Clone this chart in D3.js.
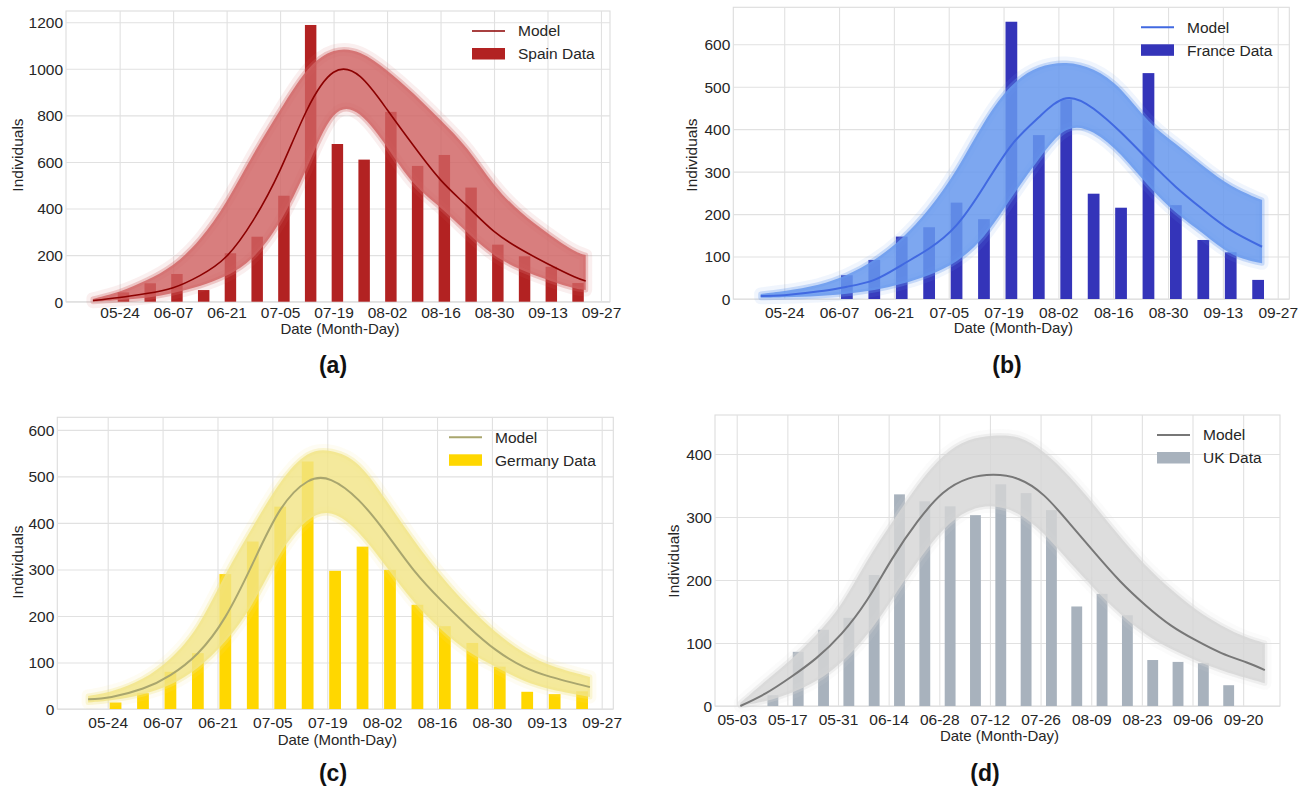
<!DOCTYPE html>
<html>
<head>
<meta charset="utf-8">
<script src="https://cdn.jsdelivr.net/npm/d3@7"></script>
<style>
  body { margin: 0; background: #fff; }
  svg { display: block; font-family: "Liberation Sans", Arial, Helvetica, sans-serif; }
  .tick text { fill: #262626; font-size: 15.5px; }
  .grid line { stroke: #e1e1e1; stroke-width: 1.1; }
</style>
</head>
<body>
<svg id="chart" width="1309" height="792"></svg>
<script>
// ---- data ----
var spainBarDates = ['05-25','06-01','06-08','06-15','06-22','06-29','07-06','07-13','07-20','07-27','08-03','08-10','08-17','08-24','08-31','09-07','09-14','09-21'];
var spainBars     = [40, 79, 119, 50, 208, 279, 455, 1188, 677, 610, 815, 583, 630, 490, 245, 195, 150, 80];
var spainModelDates = ['05-17','05-24','05-31','06-07','06-14','06-21','06-28','07-05','07-12','07-19','07-26','08-02','08-09','08-16','08-23','08-30','09-06','09-13','09-20','09-23'];
var spainModel    = [5, 18, 35, 60, 112, 195, 350, 565, 822, 985, 966, 825, 668, 523, 410, 302, 225, 163, 107, 89];
var spainLow      = [0, 7, 15, 36, 65, 107, 179, 330, 566, 850, 823, 666, 494, 408, 295, 193, 136, 93, 55, 50];
var spainHigh     = [12, 40, 90, 150, 260, 423, 638, 823, 1009, 1092, 1080, 995, 895, 780, 666, 494, 380, 294, 215, 200];

var franceBarDates = ['06-09','06-16','06-23','06-30','07-07','07-14','07-21','07-28','08-04','08-11','08-18','08-25','09-01','09-08','09-15','09-22'];
var franceBars     = [56, 92, 147, 169, 227, 188, 653, 386, 470, 248, 215, 532, 221, 139, 110, 45];
var franceModelDates = ['05-18','05-24','06-02','06-09','06-16','06-23','06-30','07-07','07-14','07-21','07-28','08-04','08-11','08-18','08-25','09-01','09-08','09-15','09-23'];
var franceModel    = [7, 9, 18, 29, 45, 80, 119, 174, 265, 362, 428, 473, 448, 392, 327, 264, 210, 162, 123];
var franceLow      = [3, 4, 7, 12, 20, 35, 55, 85, 140, 240, 330, 414, 398, 343, 264, 201, 155, 100, 84];
var franceHigh     = [12, 18, 32, 55, 90, 140, 210, 300, 420, 510, 550, 560, 545, 500, 413, 366, 312, 264, 233];

var germanyBarDates = ['05-26','06-02','06-09','06-16','06-23','06-30','07-07','07-14','07-21','07-28','08-04','08-11','08-18','08-25','09-01','09-08','09-15','09-22'];
var germanyBars     = [14, 34, 80, 120, 290, 360, 435, 532, 297, 349, 299, 224, 178, 142, 91, 37, 32, 38];
var germanyModelDates = ['05-19','05-25','06-02','06-09','06-16','06-23','06-30','07-07','07-14','07-20','07-27','08-03','08-10','08-17','08-24','08-31','09-07','09-14','09-24'];
var germanyModel    = [21, 26, 44, 73, 120, 198, 313, 428, 489, 492, 449, 378, 299, 234, 177, 127, 91, 69, 47];
var germanyLow      = [14, 18, 30, 50, 85, 142, 220, 342, 413, 430, 385, 306, 228, 170, 120, 91, 59, 41, 26];
var germanyHigh     = [28, 36, 62, 105, 170, 292, 392, 492, 557, 558, 535, 449, 363, 285, 220, 163, 120, 91, 69];

var ukBarDates = ['05-13','05-20','05-27','06-03','06-10','06-17','06-24','07-01','07-08','07-15','07-22','07-29','08-05','08-12','08-19','08-26','09-02','09-09','09-16'];
var ukBars     = [17, 86, 121, 140, 208, 336, 325, 317, 303, 352, 338, 311, 158, 178, 144, 73, 70, 68, 33];
var ukModelDates = ['05-04','05-11','05-18','05-25','06-01','06-08','06-15','06-22','06-29','07-06','07-13','07-20','07-27','08-03','08-10','08-17','08-24','08-31','09-07','09-14','09-21','09-26'];
var ukModel    = [0, 20, 46, 76, 115, 168, 234, 293, 338, 361, 367, 360, 334, 290, 243, 198, 160, 128, 104, 84, 69, 57];
var ukLow      = [0, 7, 20, 38, 68, 110, 170, 230, 283, 313, 320, 308, 275, 228, 185, 145, 113, 90, 72, 56, 44, 36];
var ukHigh     = [5, 40, 73, 112, 158, 232, 292, 352, 400, 425, 430, 430, 405, 365, 318, 268, 222, 185, 152, 127, 108, 100];

var ticksA = ['05-24','06-07','06-21','07-05','07-19','08-02','08-16','08-30','09-13','09-27'];
var ticksD = ['05-03','05-17','05-31','06-14','06-28','07-12','07-26','08-09','08-23','09-06','09-20'];

// ---- helpers ----
var parse = function(s){ return new Date(Date.parse('2020-' + s + 'T00:00:00Z')); };
var DAY = 864e5;
var svg = d3.select('#chart');

var drawPanel = function(p){

  var x = d3.scaleUtc().domain([new Date(p.xFrom), new Date(p.xTo)]).range([p.left, p.right]);
  var y = d3.scaleLinear().domain([0, p.yMax]).range([p.bottom, p.top]);
  var g = svg.append('g');

  // frame
  g.append('rect')
    .attr('x', p.left).attr('y', p.top)
    .attr('width', p.right - p.left).attr('height', p.bottom - p.top)
    .attr('fill', '#fff').attr('stroke', '#dcdcdc').attr('stroke-width', 1.1);

  // grid + tick labels
  var xAxis = g.append('g').attr('class', 'grid')
    .attr('transform', 'translate(0,' + p.bottom + ')')
    .call(d3.axisBottom(x).tickValues(p.ticks.map(parse))
      .tickFormat(d3.utcFormat('%m-%d'))
      .tickSizeInner(-(p.bottom - p.top)).tickSizeOuter(0).tickPadding(0));
  xAxis.select('.domain').remove();
  xAxis.selectAll('text').attr('y', p.tickY).attr('dy', 0);

  var yAxis = g.append('g').attr('class', 'grid')
    .attr('transform', 'translate(' + p.left + ',0)')
    .call(d3.axisLeft(y).tickValues(d3.range(0, p.yTickMax + 1, p.yStep))
      .tickFormat(d3.format('d'))
      .tickSizeInner(-(p.right - p.left)).tickSizeOuter(0).tickPadding(3));
  yAxis.select('.domain').remove();
  yAxis.selectAll('text').attr('dy', '0.35em');

  // bars
  g.append('g').selectAll('rect')
    .data(p.barDates.map(function(d, i){ return {date: parse(d), v: p.bars[i]}; }))
    .enter().append('rect')
    .attr('x', function(d){ return x(new Date(+d.date - 1.5 * DAY)); })
    .attr('width', function(d){ return x(new Date(+d.date + 1.5 * DAY)) - x(new Date(+d.date - 1.5 * DAY)); })
    .attr('y', function(d){ return y(d.v); })
    .attr('height', function(d){ return p.bottom - y(d.v); })
    .attr('fill', p.barColor);

  // spread of the model runs
  var band = p.modelDates.map(function(d, i){ return {date: parse(d), lo: p.low[i], hi: p.high[i], m: p.model[i]}; });
  var area = d3.area().curve(d3.curveBasis)
    .x(function(d){ return x(d.date); })
    .y0(function(d){ return y(d.lo); })
    .y1(function(d){ return y(d.hi); });
  // faint halo of the outlying runs
  g.append('path').datum(band)
    .attr('d', area)
    .attr('fill', 'none')
    .attr('stroke', p.bandColor).attr('stroke-opacity', 0.1).attr('stroke-width', 13)
    .attr('stroke-linejoin', 'round');
  g.append('path').datum(band)
    .attr('d', area)
    .attr('fill', p.bandColor).attr('fill-opacity', p.bandOpacity)
    .attr('stroke', p.bandColor).attr('stroke-opacity', 0.3).attr('stroke-width', 5)
    .attr('stroke-linejoin', 'round');

  // model line
  var line = d3.line().curve(d3.curveNatural)
    .x(function(d){ return x(d.date); })
    .y(function(d){ return y(d.m); });
  g.append('path').datum(band)
    .attr('d', line)
    .attr('fill', 'none').attr('stroke', p.lineColor).attr('stroke-width', p.lineWidth);

  // legend
  var lx = p.legendX, ly = p.top + 20;
  g.append('line')
    .attr('x1', lx - 46).attr('x2', lx - 13).attr('y1', ly).attr('y2', ly)
    .attr('stroke', p.lineColor).attr('stroke-width', p.lineWidth);
  g.append('rect')
    .attr('x', lx - 46).attr('y', ly + 17).attr('width', 33).attr('height', 11.5)
    .attr('fill', p.barColor);
  g.append('text').attr('x', lx).attr('y', ly).attr('dy', '0.35em')
    .attr('font-size', '15.5px').attr('fill', '#262626').text('Model');
  g.append('text').attr('x', lx).attr('y', ly + 23).attr('dy', '0.35em')
    .attr('font-size', '15.5px').attr('fill', '#262626').text(p.name + ' Data');

  // axis titles and panel tag
  g.append('text')
    .attr('x', (p.left + p.right) / 2 + 2).attr('y', p.xLabelY)
    .attr('text-anchor', 'middle').attr('font-size', '15px').attr('fill', '#262626')
    .text('Date (Month-Day)');
  g.append('text')
    .attr('transform', 'translate(' + p.yLabelX + ',' + p.yLabelY + ') rotate(-90)')
    .attr('text-anchor', 'middle').attr('font-size', '15.5px').attr('fill', '#262626')
    .text('Individuals');
  g.append('text')
    .attr('x', p.tagX).attr('y', p.tagY)
    .attr('text-anchor', 'middle').attr('font-size', '23px').attr('font-weight', 'bold')
    .attr('fill', '#111').text(p.tag);
};

drawPanel({
  name: 'Spain', tag: '(a)', barDates: spainBarDates, bars: spainBars,
  modelDates: spainModelDates, model: spainModel, low: spainLow, high: spainHigh, ticks: ticksA,
  left: 66, right: 610, top: 11, bottom: 301.7,
  xFrom: '2020-05-09T23:00:00Z', xTo: '2020-09-29T08:40:00Z',
  yMax: 1248, yTickMax: 1200, yStep: 200,
  barColor: '#b22222', bandColor: '#d06262', bandOpacity: 0.82, lineColor: '#8b0000', lineWidth: 1.6,
  legendX: 518, tickY: 16.5, xLabelY: 334, yLabelX: 23, yLabelY: 155, tagX: 333, tagY: 373
});

drawPanel({
  name: 'France', tag: '(b)', barDates: franceBarDates, bars: franceBars,
  modelDates: franceModelDates, model: franceModel, low: franceLow, high: franceHigh, ticks: ticksA,
  left: 733.3, right: 1289.3, top: 7.3, bottom: 299,
  xFrom: '2020-05-11T00:00:00Z', xTo: '2020-09-29T23:00:00Z',
  yMax: 687, yTickMax: 600, yStep: 100,
  barColor: '#3434b9', bandColor: '#6899ee', bandOpacity: 0.86, lineColor: '#4169e1', lineWidth: 2,
  legendX: 1187, tickY: 19, xLabelY: 333, yLabelX: 697, yLabelY: 155, tagX: 1007, tagY: 373
});

drawPanel({
  name: 'Germany', tag: '(c)', barDates: germanyBarDates, bars: germanyBars,
  modelDates: germanyModelDates, model: germanyModel, low: germanyLow, high: germanyHigh, ticks: ticksA,
  left: 57.3, right: 613.3, top: 417.3, bottom: 709,
  xFrom: '2020-05-11T03:30:00Z', xTo: '2020-09-29T23:00:00Z',
  yMax: 627, yTickMax: 600, yStep: 100,
  barColor: '#ffd700', bandColor: '#f1e486', bandOpacity: 0.82, lineColor: '#a9a66e', lineWidth: 2,
  legendX: 495, tickY: 19, xLabelY: 745, yLabelX: 23, yLabelY: 562, tagX: 333, tagY: 781
});

drawPanel({
  name: 'UK', tag: '(d)', barDates: ukBarDates, bars: ukBars,
  modelDates: ukModelDates, model: ukModel, low: ukLow, high: ukHigh, ticks: ticksD,
  left: 715, right: 1280, top: 415, bottom: 706,
  xFrom: '2020-04-27T00:00:00Z', xTo: '2020-09-30T04:30:00Z',
  yMax: 462, yTickMax: 400, yStep: 100,
  barColor: '#a8b2bd', bandColor: '#d5d5d5', bandOpacity: 0.82, lineColor: '#777777', lineWidth: 2,
  legendX: 1203, tickY: 19, xLabelY: 741, yLabelX: 679, yLabelY: 561, tagX: 985, tagY: 781
});
</script>
</body>
</html>
